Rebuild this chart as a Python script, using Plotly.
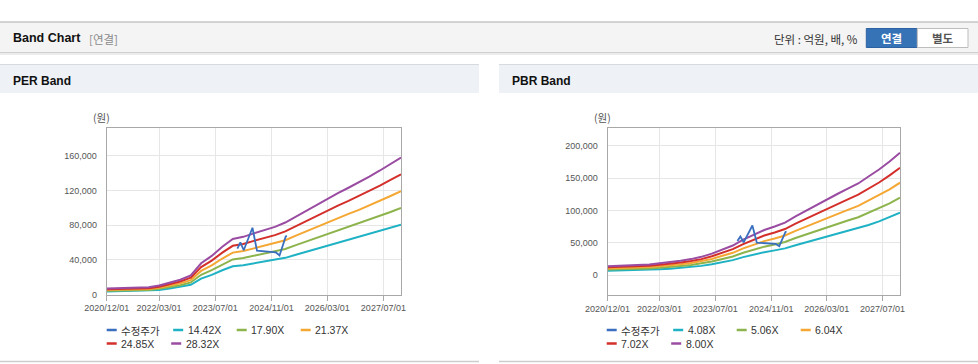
import plotly.graph_objects as go

# ---------------- data ----------------
band_dates = ["2020-12-01", "2021-03-01", "2021-06-01", "2021-09-01", "2021-12-01",
              "2022-03-01", "2022-06-01", "2022-09-01", "2022-12-01", "2023-03-01",
              "2023-06-01", "2023-09-01", "2023-12-01", "2024-03-01", "2024-06-01",
              "2024-09-01", "2024-12-01", "2025-03-01", "2025-06-01", "2025-09-01",
              "2025-12-01", "2026-03-01", "2026-06-01", "2026-09-01", "2026-12-01",
              "2027-03-01", "2027-06-01", "2027-09-01", "2027-12-01"]

price_dates = ["2024-01-10", "2024-02-05", "2024-03-05", "2024-05-20", "2024-06-28",
               "2024-08-15", "2024-10-20", "2024-12-10", "2025-01-10", "2025-03-05",
               "2025-03-15"]
price_values = [53000, 60000, 51000, 77000, 50500, 50000, 49500, 48500, 45000, 67000, 67500]

per_names = ["14.42X", "17.90X", "21.37X", "24.85X", "28.32X"]
per_1442 = [3560, 3820, 3970, 4070, 4230, 5250, 6870, 8660, 11200, 18330, 22660, 28010, 32590,
            33860, 35900, 37930, 39720, 42260, 45830, 49290, 52800, 56260, 59470, 62680, 65890,
            69250, 72810, 76630, 80450]
per_1790 = [4420, 4740, 4930, 5060, 5250, 6510, 8530, 10750, 13910, 22750, 28130, 34760, 40450,
            42030, 44560, 47090, 49300, 52460, 56890, 61180, 65550, 69840, 73830, 77810, 81790,
            85960, 90390, 95130, 99870]
per_2137 = [5280, 5660, 5890, 6040, 6260, 7770, 10190, 12830, 16600, 27170, 33580, 41500, 48290,
            50180, 53200, 56220, 58860, 62630, 67910, 73040, 78250, 83380, 88140, 92890, 97640,
            102620, 107910, 113570, 119230]
per_2485 = [6140, 6580, 6840, 7020, 7280, 9040, 11850, 14920, 19300, 31590, 39050, 48260, 56160,
            58350, 61860, 65370, 68440, 72830, 78970, 84940, 90990, 96960, 102490, 108020, 113550,
            119340, 125480, 132060, 138640]
per_2832 = [7000, 7500, 7800, 8000, 8300, 10300, 13500, 17000, 22000, 36000, 44500, 55000, 64000,
            66500, 70500, 74500, 78000, 83000, 90000, 96800, 103700, 110500, 116800, 123100, 129400,
            136000, 143000, 150500, 158000]

pbr_names = ["4.08X", "5.06X", "6.04X", "7.02X", "8.00X"]
pbr_408 = [7140, 7400, 7650, 8060, 8570, 9440, 10200, 11480, 12750, 14540, 17090, 20400, 23460,
           28050, 32130, 35700, 38510, 41570, 46410, 50950, 55440, 59930, 64110, 68290, 72420,
           77880, 83390, 89760, 96700]
pbr_506 = [8860, 9170, 9490, 9990, 10630, 11700, 12650, 14230, 15810, 18030, 21190, 25300, 29100,
           34790, 39850, 44280, 47750, 51550, 57560, 63190, 68750, 74320, 79510, 84690, 89820,
           96580, 103410, 111320, 119920]
pbr_604 = [10570, 10950, 11330, 11930, 12680, 13970, 15100, 16990, 18880, 21520, 25290, 30200, 34730,
           41530, 47570, 52850, 57000, 61530, 68710, 75420, 82070, 88710, 94900, 101090, 107210,
           115290, 123440, 132880, 143150]
pbr_702 = [12290, 12720, 13160, 13870, 14740, 16230, 17550, 19740, 21940, 25010, 29400, 35100, 40370,
           48260, 55280, 61430, 66250, 71520, 79850, 87660, 95380, 103110, 110300, 117500, 124610,
           133990, 143470, 154440, 166370]
pbr_800 = [14000, 14500, 15000, 15800, 16800, 18500, 20000, 22500, 25000, 28500, 33500, 40000, 46000,
           55000, 63000, 70000, 75500, 81500, 91000, 99900, 108700, 117500, 125700, 133900, 142000,
           152700, 163500, 176000, 189600]

price_name = "수정주가"
x_tick_dates = ["2020-12-01", "2022-03-01", "2023-07-01", "2024-11-01", "2026-03-01", "2027-07-01"]
x_tick_labels = ["2020/12/01", "2022/03/01", "2023/07/01", "2024/11/01", "2026/03/01", "2027/07/01"]
per_y_ticks = [0, 40000, 80000, 120000, 160000]
pbr_y_ticks = [0, 50000, 100000, 150000, 200000]

# ---------------- style ----------------
W, H = 978, 364
FONT = "Liberation Sans, Arial, Noto Sans CJK KR, sans-serif"
KFONT = "Noto Sans CJK KR, Liberation Sans, sans-serif"
price_color = "#3a6fbf"
band_colors = ["#1fb2c4", "#8db44c", "#f5a733", "#d3302b", "#9a4ca2"]


def fx(x):
    return x / W


def fy(y):
    return 1 - y / H


fig = go.Figure()

per_bands = [per_1442, per_1790, per_2137, per_2485, per_2832]
pbr_bands = [pbr_408, pbr_506, pbr_604, pbr_702, pbr_800]

for vals, name, col in zip(per_bands, per_names, band_colors):
    fig.add_trace(go.Scatter(x=band_dates, y=vals, name=name, mode="lines",
                             line=dict(color=col, width=2), xaxis="x", yaxis="y",
                             showlegend=False, hoverinfo="skip"))
fig.add_trace(go.Scatter(x=price_dates, y=price_values, name=price_name, mode="lines",
                         line=dict(color=price_color, width=1.8), xaxis="x", yaxis="y",
                         showlegend=False))

for vals, name, col in zip(pbr_bands, pbr_names, band_colors):
    fig.add_trace(go.Scatter(x=band_dates, y=vals, name=name, mode="lines",
                             line=dict(color=col, width=2), xaxis="x2", yaxis="y2",
                             showlegend=False, hoverinfo="skip"))
fig.add_trace(go.Scatter(x=price_dates, y=price_values, name=price_name, mode="lines",
                         line=dict(color=price_color, width=1.8), xaxis="x2", yaxis="y2",
                         showlegend=False))

axis_common = dict(showgrid=True, gridcolor="#e6e6e6", gridwidth=1, showline=True,
                   linecolor="#a8a8a8", linewidth=1, mirror=True, zeroline=False,
                   automargin=False,
                   tickfont=dict(size=9, color="#555555", family=FONT))

xcommon = dict(axis_common, type="date", range=["2020-12-01", "2027-12-01"],
               tickmode="array", tickvals=x_tick_dates, ticktext=x_tick_labels,
               ticks="outside", ticklen=5, tickcolor="#a8a8a8")

fig.update_layout(
    template="none",
    xaxis=dict(xcommon, domain=[fx(106.7), fx(401)], anchor="y"),
    yaxis=dict(axis_common, domain=[fy(294.5), fy(128)], anchor="x", range=[0, 192000],
               tickmode="array", tickvals=per_y_ticks, tickformat=",", ticks="",
               ticklabelstandoff=7),
    xaxis2=dict(xcommon, domain=[fx(607.5), fx(900)], anchor="y2"),
    yaxis2=dict(axis_common, domain=[fy(295), fy(128.3)], anchor="x2", range=[-30500, 227300],
                tickmode="array", tickvals=pbr_y_ticks, tickformat=",", ticks="",
                ticklabelstandoff=7),
)

shapes = []
annotations = []


def rect(x0, y0, x1, y1, fill, line=None, lw=1):
    shapes.append(dict(type="rect", xref="paper", yref="paper", x0=fx(x0), x1=fx(x1),
                       y0=fy(y1), y1=fy(y0), fillcolor=fill, layer="below",
                       line=dict(color=line or fill, width=lw if line else 0)))


def hline(x0, x1, y, color, lw=1):
    shapes.append(dict(type="line", xref="paper", yref="paper", x0=fx(x0), x1=fx(x1),
                       y0=fy(y), y1=fy(y), line=dict(color=color, width=lw), layer="below"))


def text(x, y, s, size=12, color="#222222", bold=False, anchor="left", family=FONT):
    annotations.append(dict(xref="paper", yref="paper", x=fx(x), y=fy(y), text=s,
                            showarrow=False, xanchor=anchor, yanchor="middle",
                            font=dict(size=size, color=color, family=family,
                                      weight="bold" if bold else "normal")))


# top header bar
rect(0, 22, 978, 52, "#f4f4f4")
hline(0, 978, 22, "#c6c6c6", 1.5)
hline(0, 978, 52.5, "#cfcfcf", 1)
hline(0, 978, 54, "#ececec", 2)
text(11, 38.5, "Band Chart", size=12.5, color="#111111", bold=True)
text(87, 39, "[연결]", size=11.5, color="#8a8a8a", family=KFONT)
text(859.5, 39, "단위 : 억원, 배, %", size=11.5, color="#333333", anchor="right", family=KFONT)
rect(866.3, 28.5, 917.3, 47.5, "#3672b6", "#2d62a2", 1)
rect(917.3, 28.5, 968, 47.5, "#ffffff", "#bdbdbd", 1)
text(891.8, 38.3, "연결", size=11.5, color="#ffffff", bold=True, anchor="center", family=KFONT)
text(942.6, 38.3, "별도", size=11.5, color="#555555", bold=True, anchor="center", family=KFONT)

# panel headers
for (px0, px1, title) in [(0, 479, "PER Band"), (499, 978, "PBR Band")]:
    rect(px0, 64, px1, 93, "#eef2f7")
    hline(px0, px1, 64.5, "#d6dbe1", 1)
    hline(px0, px1, 361.5, "#cdcdcd", 1.5)
    text(px0 + 11, 80.5, title, size=12, color="#111111", bold=True)

# unit labels
text(101.7, 118, "(원)", size=10.5, color="#555555", anchor="center", family=KFONT)
text(602.7, 118, "(원)", size=10.5, color="#555555", anchor="center", family=KFONT)

# legends
leg_offsets = [0, 66.5, 130, 194, 0, 64.5]
leg_rows = [330, 330, 330, 330, 343.5, 343.5]
for left, names in [(106.7, [price_name] + per_names), (606.7, [price_name] + pbr_names)]:
    cols = [price_color] + band_colors
    for i, (nm, col) in enumerate(zip(names, cols)):
        sx = left + leg_offsets[i]
        sy = leg_rows[i]
        shapes.append(dict(type="line", xref="paper", yref="paper", x0=fx(sx), x1=fx(sx + 10),
                           y0=fy(sy), y1=fy(sy), line=dict(color=col, width=2.5)))
        text(sx + 12.5, sy, nm, size=10.5, color="#333333",
             family=KFONT if nm == price_name else FONT)

fig.update_layout(
    width=W, height=H, margin=dict(l=0, r=0, t=0, b=0, pad=0),
    paper_bgcolor="#ffffff", plot_bgcolor="#ffffff",
    shapes=shapes, annotations=annotations, showlegend=False,
    font=dict(family=FONT),
)

fig.write_html("out.html", config={"displayModeBar": False},
               post_script="document.body.style.margin='0';document.body.style.overflow='hidden';")
